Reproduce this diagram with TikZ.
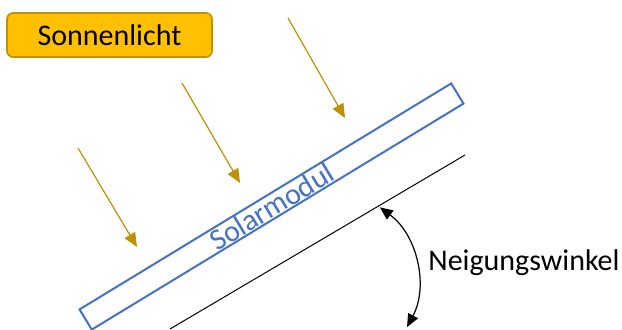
\documentclass[tikz,border=0pt]{standalone}
\usepackage{fontspec}
\setmainfont{Carlito}
\usetikzlibrary{arrows.meta}

\definecolor{sunfill}{HTML}{FFC000}
\definecolor{sunedge}{HTML}{BF9000}
\definecolor{panelblue}{HTML}{4472C4}

\begin{document}
\begin{tikzpicture}[x=0.5pt, y=0.5pt,
	font=\fontsize{15}{18}\selectfont,
	sunbox/.style={draw=sunedge, fill=sunfill, line width=0.8pt, rounded corners=3pt,
		minimum width=102.5pt, minimum height=22pt, inner sep=0pt},
	panel/.style={draw=panelblue, line width=1pt, text=panelblue, inner sep=0pt,
		minimum width=217.5pt, minimum height=11.8pt},
	ray/.style={draw=sunedge, line width=0.6pt, -{Triangle[length=7pt,width=6pt]}},
	angle arrow/.style={line width=0.6pt,
		{Triangle[length=6.5pt,width=5.5pt]}-{Triangle[length=6.5pt,width=5.5pt]}}]
	\useasboundingbox (0,0) rectangle (622,329);

	\node[sunbox] (sonne) at (109.5,294) {Sonnenlicht};

	% light rays
	\coordinate (r1a) at (78,181);  \coordinate (r1b) at (137,82);
	\coordinate (r2a) at (182,246); \coordinate (r2b) at (240,146);
	\coordinate (r3a) at (288,311); \coordinate (r3b) at (345,211);
	\draw[ray] (r1a) -- (r1b);
	\draw[ray] (r2a) -- (r2b);
	\draw[ray] (r3a) -- (r3b);

	\node[panel, rotate=31.3] (modul) at (271.5,122.5) {Solarmodul};

	% roof line
	\coordinate (dach1) at (170,0);
	\coordinate (dach2) at (465,174);
	\draw[line width=0.5pt] (dach1) -- (dach2);

	% angle
	\coordinate (winkel) at (379.8,121.7);
	\draw[angle arrow] (winkel) arc[start angle=53.6, end angle=-28, radius=94];
	\node[anchor=base west, inner sep=0pt] (neigung) at (428,59) {Neigungswinkel};
\end{tikzpicture}
\end{document}
